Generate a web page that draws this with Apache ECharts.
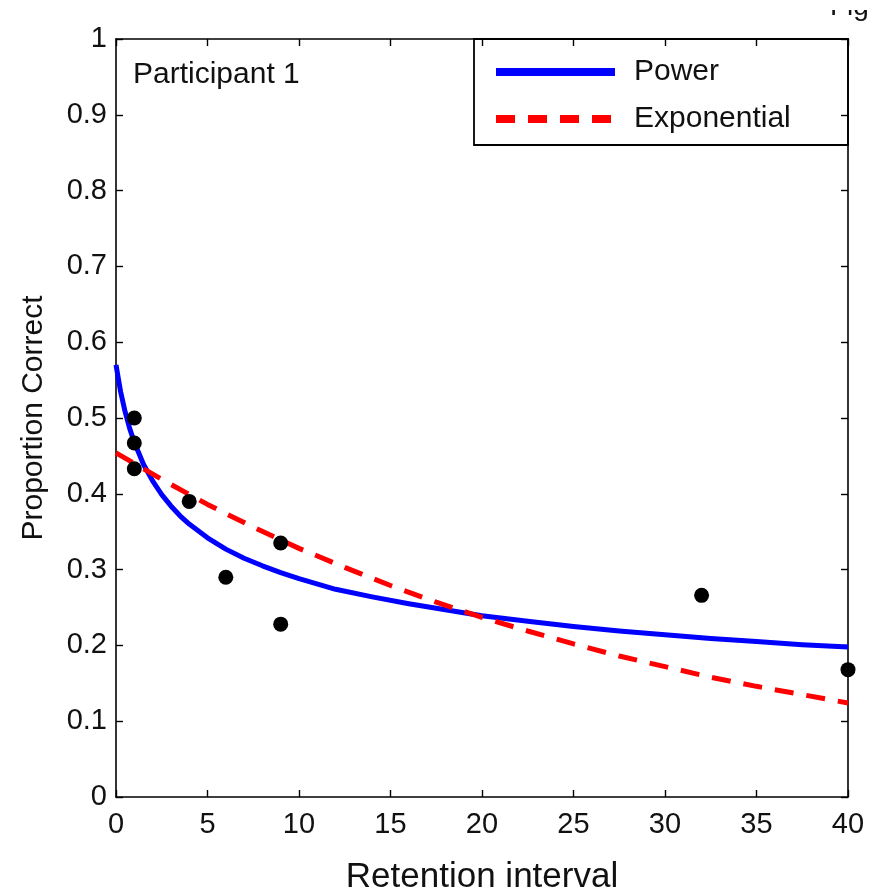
<!DOCTYPE html>
<html>
<head>
<meta charset="utf-8">
<title>Participant 1 – retention curves</title>
<script src="https://cdn.jsdelivr.net/npm/echarts@6/dist/echarts.min.js"></script>
<style>
  html, body { margin: 0; padding: 0; background: #fff; }
  #chart { width: 879px; height: 896px; }
</style>
</head>
<body>
<div id="chart"></div>
<script>
// Observed proportion correct at each retention interval
const obsInterval = [1, 1, 1, 4, 6, 9, 9, 32, 40];
const obsCorrect  = [0.500, 0.467, 0.433, 0.390, 0.290, 0.335, 0.228, 0.266, 0.168];

// Fitted power curve, sampled along the retention interval
const powerT = [0, 0.25, 0.5, 0.75, 1, 1.5, 2, 2.5, 3, 3.5, 4, 5, 6, 7, 8, 9, 10, 12, 14, 16, 18, 20,
                22.5, 25, 27.5, 30, 32.5, 35, 37.5, 40];
const powerY = [0.570, 0.535, 0.508, 0.486, 0.468, 0.439, 0.417, 0.399, 0.384, 0.371, 0.360,
                0.342, 0.327, 0.315, 0.305, 0.296, 0.288, 0.274, 0.264, 0.255, 0.247, 0.239,
                0.232, 0.225, 0.219, 0.214, 0.209, 0.205, 0.201, 0.198];

// Fitted exponential curve
const expT = [0, 2.5, 5, 7.5, 10, 12.5, 15, 17.5, 20, 22.5, 25, 27.5, 30, 32.5, 35, 37.5, 40];
const expY = [0.454, 0.419, 0.386, 0.356, 0.328, 0.303, 0.279, 0.257, 0.237, 0.219, 0.202,
              0.186, 0.172, 0.158, 0.146, 0.135, 0.124];

const xTicks = { min: 0, max: 40, interval: 5 };
const yTicks = { min: 0, max: 1, interval: 0.1 };

const FONT = '"Liberation Sans", Arial, Helvetica, sans-serif';
const INK = '#111';

const pairs = (xs, ys) => xs.map((x, i) => [x, ys[i]]);

const chart = echarts.init(document.getElementById('chart'), null, { renderer: 'canvas' });

const frameAxis = {
  axisLine: { show: true, onZero: false, lineStyle: { color: '#000', width: 1.6 } },
  axisTick: { show: true, inside: true, length: 7, lineStyle: { color: '#000', width: 1.4 } },
  splitLine: { show: false }
};

chart.setOption({
  animation: false,
  backgroundColor: '#fff',
  grid: { left: 116, right: 31, top: 39, bottom: 99, containLabel: false, outerBoundsMode: 'none' },
  xAxis: [
    Object.assign({
      type: 'value', position: 'bottom', ...xTicks,
      name: 'Retention interval', nameLocation: 'middle', nameGap: 63,
      nameTextStyle: { fontFamily: FONT, fontSize: 35, color: INK },
      axisLabel: { fontFamily: FONT, fontSize: 29, color: INK, margin: 13 }
    }, frameAxis),
    Object.assign({
      type: 'value', position: 'top', ...xTicks,
      axisLabel: { show: false }
    }, frameAxis)
  ],
  yAxis: [
    Object.assign({
      type: 'value', position: 'left', ...yTicks,
      name: 'Proportion Correct', nameLocation: 'middle', nameGap: 67,
      nameTextStyle: { fontFamily: FONT, fontSize: 30, color: INK },
      axisLabel: { fontFamily: FONT, fontSize: 29, color: INK, margin: 9 }
    }, frameAxis),
    Object.assign({
      type: 'value', position: 'right', ...yTicks,
      axisLabel: { show: false }
    }, frameAxis)
  ],
  legend: {
    orient: 'vertical',
    left: 487, top: 52,
    itemWidth: 119, itemHeight: 30, itemGap: 17,
    data: ['Power', 'Exponential'],
    textStyle: { fontFamily: FONT, fontSize: 30, color: INK, padding: [0, 0, 0, 14] },
    lineStyle: { width: 8 },
    itemStyle: { opacity: 0, borderWidth: 0 },
    selectedMode: false
  },
  graphic: [
    {
      type: 'rect', z: 90, silent: true,
      shape: { x: 474, y: 39, width: 374, height: 106 },
      style: { fill: 'none', stroke: '#000', lineWidth: 1.8 }
    },
    {
      type: 'text', left: 133, top: 60, z: 100,
      style: { text: 'Participant 1', font: '30px ' + FONT, fill: INK }
    },
    {
      type: 'text', x: 830, y: -7, z: 100,
      style: { text: 'Fig', font: '28px ' + FONT, fill: INK, verticalAlign: 'top' }
    },
    {
      type: 'rect', z: 101,
      shape: { x: 820, y: 0, width: 59, height: 10 },
      style: { fill: '#fff' }
    }
  ],
  series: [
    {
      name: 'Power', type: 'line', z: 3,
      data: pairs(powerT, powerY),
      smooth: false,
      symbol: 'none', showSymbol: false,
      lineStyle: { color: '#0000ff', width: 5, join: 'round' },
      itemStyle: { color: '#0000ff' }
    },
    {
      name: 'Exponential', type: 'line', z: 3,
      data: pairs(expT, expY),
      smooth: false,
      symbol: 'none', showSymbol: false,
      lineStyle: { color: '#ff0000', width: 5, type: [19, 13] },
      itemStyle: { color: '#ff0000' }
    },
    {
      name: 'Observed', type: 'scatter', z: 5,
      data: pairs(obsInterval, obsCorrect),
      symbol: 'circle', symbolSize: 15,
      itemStyle: { color: '#000', opacity: 1 },
      clip: false
    }
  ]
});
</script>
</body>
</html>
